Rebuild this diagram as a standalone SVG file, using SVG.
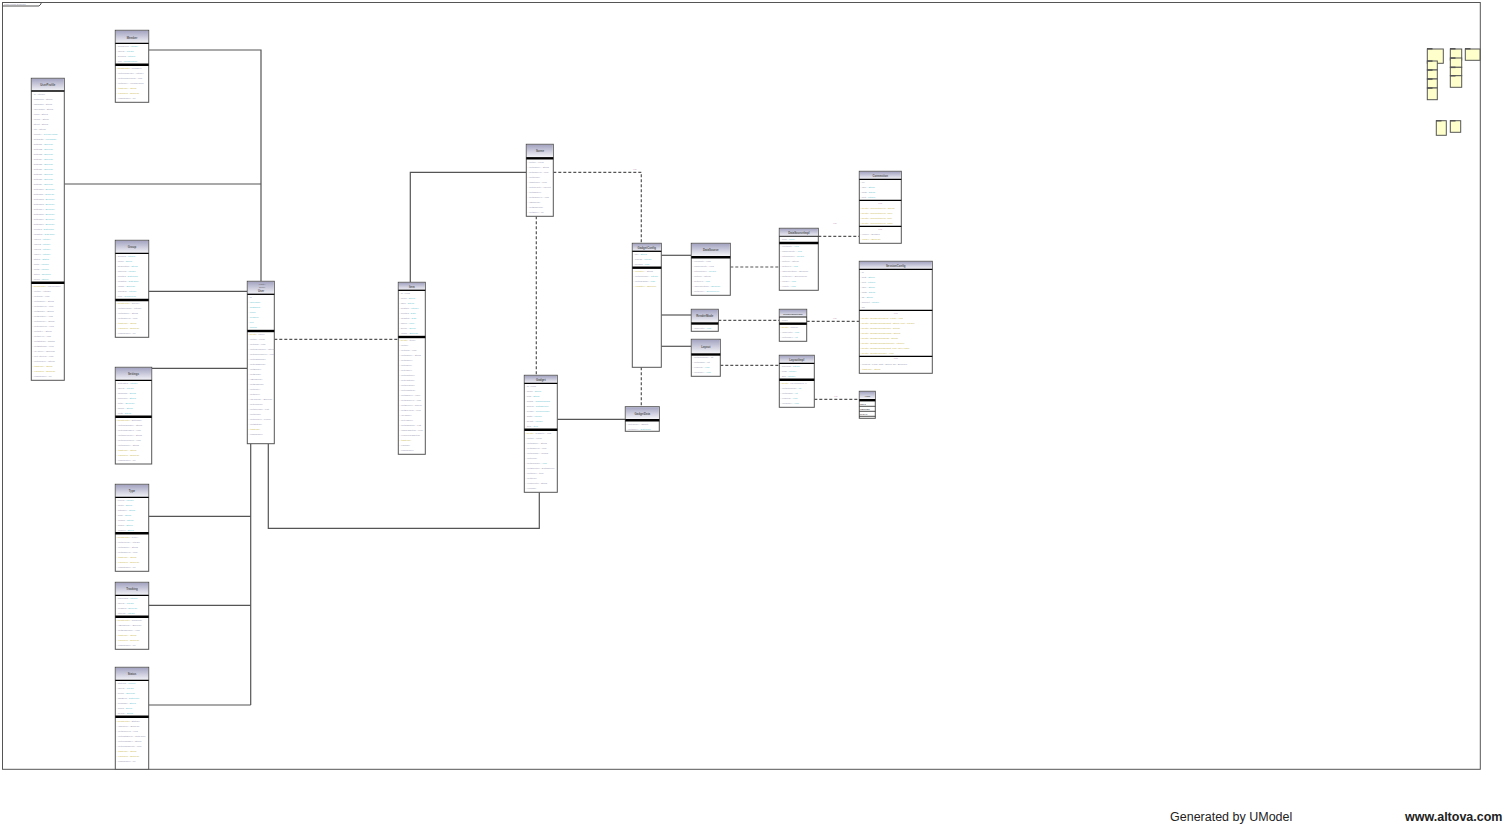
<svg xmlns="http://www.w3.org/2000/svg" width="1511" height="824" viewBox="0 0 1511 824">
<defs>
<linearGradient id="hg" x1="0" y1="0" x2="0" y2="1">
<stop offset="0" stop-color="#a4a4c2"/>
<stop offset="1" stop-color="#f4f4f8"/>
</linearGradient>
</defs>
<style>
.box{fill:#fff;stroke:#555;stroke-width:1}
.hd{fill:url(#hg)}
.sep{stroke:#000;stroke-width:1.3}
.thk{stroke:#000;stroke-width:2.4}
.thn{stroke:#000;stroke-width:0.9}
.cn{fill:none;stroke:#555;stroke-width:1.2}
.dash{stroke-dasharray:3 2}
.nm{font-family:"Liberation Sans",Arial,sans-serif;font-size:2.8px;font-weight:bold;fill:#555;text-anchor:middle}
.r{font-family:"Liberation Sans",Arial,sans-serif;font-size:2.4px;fill:#9a9ab4}
.t{fill:#6cc6d2}
.o{fill:#cdb950}
.s{font-family:"Liberation Sans",Arial,sans-serif;font-size:2.4px;fill:#c8a0bc;text-anchor:middle}
.note{fill:#ffffcc;stroke:#555;stroke-width:1}
.tab{fill:#555}
.ft{font-family:"Liberation Sans",Arial,sans-serif;font-size:12.5px;fill:#222}
</style>
<rect width="1511" height="824" fill="#fff"/>

<g id="frame">
<rect x="2.5" y="2.5" width="1477.8" height="766.8" fill="none" stroke="#555" stroke-width="1"/>
<path d="M2.5,6 H39 L41,4 V2.5" fill="none" stroke="#555" stroke-width="1"/>
<text x="4" y="5" class="r" style="font-size:2.4px">class Class Diagram</text>
</g>

<g id="connectors">
<path class="cn" d="M148.7,50 H261 V281.3"/>
<path class="cn" d="M64.3,184 H261"/>
<path class="cn" d="M148.7,291.3 H247.3"/>
<path class="cn" d="M151.7,368.3 H247.3"/>
<path class="cn" d="M250.7,443.7 V705"/>
<path class="cn" d="M148.7,516.3 H250.7"/>
<path class="cn" d="M148.7,605.3 H250.7"/>
<path class="cn" d="M148.7,705 H250.7"/>
<path class="cn" d="M268.3,443.7 V528.3 H539.3 V492.3"/>
<path class="cn dash" d="M274.3,339.3 H398.3"/>
<path class="cn" d="M410.3,282.3 V172.3 H526.3"/>
<path class="cn dash" d="M553.3,172.3 H641.3 V243.3"/>
<path class="cn dash" d="M536.3,216.3 V375.3"/>
<path class="cn" d="M557.3,419.3 H625.3"/>
<path class="cn dash" d="M641.3,367.3 V406.7"/>
<path class="cn" d="M661.3,255.3 H691.3"/>
<path class="cn" d="M661.3,315 H691.3"/>
<path class="cn" d="M661.3,346.3 H691.3"/>
<path class="cn dash" d="M730.3,267 H779.3"/>
<path class="cn dash" d="M818.3,236.3 H859.3"/>
<path class="cn dash" d="M718.3,320.3 H779.3"/>
<path class="cn dash" d="M806.7,321.3 H859.3"/>
<path class="cn dash" d="M720.3,365.3 H779.3"/>
<path class="cn dash" d="M814.3,399.3 H859.3"/>
<text class="s" x="635" y="169.5">use</text>
<text class="s" x="835" y="223.5">use</text>
<text class="s" x="835" y="319">use</text>
<text class="s" x="836" y="397">use</text>
</g>

<!-- Box A -->
<g id="member">
<rect class="box" x="115.3" y="30.3" width="33.4" height="72"/>
<rect class="hd" x="115.8" y="30.8" width="32.4" height="12.5"/>
<line class="sep" x1="115.3" y1="43.3" x2="148.7" y2="43.3"/>
<line class="thk" x1="115.3" y1="64.7" x2="148.7" y2="64.7"/>
<text class="nm" x="132" y="38.5">Member</text>
<text class="r" x="116.3" y="47.3">- memberId<tspan class="t"> : Integer</tspan><tspan x="116.3" dy="5">- userId</tspan><tspan class="t"> : Integer</tspan><tspan x="116.3" dy="5">- groupId</tspan><tspan class="t"> : Integer</tspan><tspan x="116.3" dy="5">- role</tspan><tspan class="t"> : MemberRole</tspan></text>
<text class="r" x="116.3" y="69"><tspan class="o">«constructor»</tspan> Member()<tspan x="116.3" dy="5">+ getMemberId() : Integer</tspan><tspan x="116.3" dy="5">+ setMemberId(id) : void</tspan><tspan x="116.3" dy="5">+ getRole() : MemberRole</tspan><tspan x="116.3" dy="5" class="o">+ toString() : String</tspan><tspan x="116.3" dy="5" class="o">+ equals(o) : Boolean</tspan><tspan x="116.3" dy="5">+ hashCode() : int</tspan></text>
</g>

<!-- Box B -->
<g id="userprofile">
<rect class="box" x="31.3" y="78.3" width="33" height="302"/>
<rect class="hd" x="31.8" y="78.8" width="32" height="12.2"/>
<line class="sep" x1="31.3" y1="91" x2="64.3" y2="91"/>
<line class="thk" x1="31.3" y1="282.7" x2="64.3" y2="282.7"/>
<text class="nm" x="47.8" y="86.3">UserProfile</text>
<text class="r" x="32.3" y="95">- id : Integer<tspan x="32.3" dy="5">- firstName : String</tspan><tspan x="32.3" dy="5">- lastName : String</tspan><tspan x="32.3" dy="5">- userName : String</tspan><tspan x="32.3" dy="5">- email : String</tspan><tspan x="32.3" dy="5">- phone : String</tspan><tspan x="32.3" dy="5">- street : String</tspan><tspan x="32.3" dy="5">- city : String</tspan><tspan x="32.3" dy="5">- country<tspan class="t"> : CountryCode</tspan></tspan><tspan x="32.3" dy="5">- birthDate<tspan class="t"> : LocalDate</tspan></tspan><tspan x="32.3" dy="5">- setting1<tspan class="t"> : Boolean</tspan></tspan><tspan x="32.3" dy="5">- setting2<tspan class="t"> : Boolean</tspan></tspan><tspan x="32.3" dy="5">- setting3<tspan class="t"> : Boolean</tspan></tspan><tspan x="32.3" dy="5">- setting4<tspan class="t"> : Boolean</tspan></tspan><tspan x="32.3" dy="5">- setting5<tspan class="t"> : Boolean</tspan></tspan><tspan x="32.3" dy="5">- setting6<tspan class="t"> : Boolean</tspan></tspan><tspan x="32.3" dy="5">- setting7<tspan class="t"> : Boolean</tspan></tspan><tspan x="32.3" dy="5">- setting8<tspan class="t"> : Boolean</tspan></tspan><tspan x="32.3" dy="5">- setting9<tspan class="t"> : Boolean</tspan></tspan><tspan x="32.3" dy="5">- setting10<tspan class="t"> : Boolean</tspan></tspan><tspan x="32.3" dy="5">- setting11<tspan class="t"> : Boolean</tspan></tspan><tspan x="32.3" dy="5">- setting12<tspan class="t"> : Boolean</tspan></tspan><tspan x="32.3" dy="5">- setting13<tspan class="t"> : Boolean</tspan></tspan><tspan x="32.3" dy="5">- setting14<tspan class="t"> : Boolean</tspan></tspan><tspan x="32.3" dy="5">- setting15<tspan class="t"> : Boolean</tspan></tspan><tspan x="32.3" dy="5">- setting16<tspan class="t"> : Boolean</tspan></tspan><tspan x="32.3" dy="5">- setting17<tspan class="t"> : Boolean</tspan></tspan><tspan x="32.3" dy="5">- created<tspan class="t"> : DateTime</tspan></tspan><tspan x="32.3" dy="5">- updated<tspan class="t"> : DateTime</tspan></tspan><tspan x="32.3" dy="5">- value1<tspan class="t"> : Integer</tspan></tspan><tspan x="32.3" dy="5">- value2<tspan class="t"> : Integer</tspan></tspan><tspan x="32.3" dy="5">- value3<tspan class="t"> : Integer</tspan></tspan><tspan x="32.3" dy="5">- value4<tspan class="t"> : Integer</tspan></tspan><tspan x="32.3" dy="5">- status<tspan class="t"> : Status</tspan></tspan><tspan x="32.3" dy="5">- limit1<tspan class="t"> : Integer</tspan></tspan><tspan x="32.3" dy="5">- limit2<tspan class="t"> : Integer</tspan></tspan><tspan x="32.3" dy="5">- active<tspan class="t"> : Boolean</tspan></tspan><tspan x="32.3" dy="5">- locale<tspan class="t"> : String</tspan></tspan></text>
<text class="r" x="32.3" y="287"><tspan class="o">«constructor»</tspan> UserProfile()<tspan x="32.3" dy="5">+ getId() : Integer</tspan><tspan x="32.3" dy="5">+ setId(id) : void</tspan><tspan x="32.3" dy="5">+ getName() : String</tspan><tspan x="32.3" dy="5">+ setName(n) : void</tspan><tspan x="32.3" dy="5">+ getEmail() : String</tspan><tspan x="32.3" dy="5">+ setEmail(e) : void</tspan><tspan x="32.3" dy="5">+ getPhone() : String</tspan><tspan x="32.3" dy="5">+ setPhone(p) : void</tspan><tspan x="32.3" dy="5">+ getCity() : String</tspan><tspan x="32.3" dy="5">+ setCity(c) : void</tspan><tspan x="32.3" dy="5">+ getStatus() : Status</tspan><tspan x="32.3" dy="5">+ setStatus(s) : void</tspan><tspan x="32.3" dy="5">+ isActive() : Boolean</tspan><tspan x="32.3" dy="5">+ setActive(a) : void</tspan><tspan x="32.3" dy="5">+ getLocale() : String</tspan><tspan x="32.3" dy="5" class="o">+ toString() : String</tspan><tspan x="32.3" dy="5" class="o">+ equals(o) : Boolean</tspan><tspan x="32.3" dy="5">+ hashCode() : int</tspan></text>
</g>

<!-- Box C -->
<g id="group">
<rect class="box" x="115.3" y="240.3" width="33.4" height="97"/>
<rect class="hd" x="115.8" y="240.8" width="32.4" height="12.5"/>
<line class="sep" x1="115.3" y1="253.3" x2="148.7" y2="253.3"/>
<line class="thk" x1="115.3" y1="300" x2="148.7" y2="300"/>
<text class="nm" x="132" y="248.3">Group</text>
<text class="r" x="116.3" y="257">- groupId<tspan class="t"> : Integer</tspan><tspan x="116.3" dy="5">- name</tspan><tspan class="t"> : String</tspan><tspan x="116.3" dy="5">- description</tspan><tspan class="t"> : String</tspan><tspan x="116.3" dy="5">- ownerId</tspan><tspan class="t"> : Integer</tspan><tspan x="116.3" dy="5">- created</tspan><tspan class="t"> : DateTime</tspan><tspan x="116.3" dy="5">- updated</tspan><tspan class="t"> : DateTime</tspan><tspan x="116.3" dy="5">- visible</tspan><tspan class="t"> : Boolean</tspan><tspan x="116.3" dy="5">- maxSize</tspan><tspan class="t"> : Integer</tspan><tspan x="116.3" dy="5">- type</tspan><tspan class="t"> : GroupType</tspan></text>
<text class="r" x="116.3" y="303.7"><tspan class="o">«constructor»</tspan> Group()<tspan x="116.3" dy="5">+ getGroupId() : Integer</tspan><tspan x="116.3" dy="5">+ getName() : String</tspan><tspan x="116.3" dy="5">+ setName(n) : void</tspan><tspan x="116.3" dy="5" class="o">+ toString() : String</tspan><tspan x="116.3" dy="5" class="o">+ equals(o) : Boolean</tspan><tspan x="116.3" dy="5">+ hashCode() : int</tspan></text>
</g>

<!-- Box D -->
<g id="settings">
<rect class="box" x="115.3" y="367.3" width="36.4" height="96.7"/>
<rect class="hd" x="115.8" y="367.8" width="35.4" height="12.5"/>
<line class="sep" x1="115.3" y1="380.3" x2="151.7" y2="380.3"/>
<line class="thk" x1="115.3" y1="416.7" x2="151.7" y2="416.7"/>
<text class="nm" x="133.5" y="375.3">Settings</text>
<text class="r" x="116.3" y="384.3">- settingsId<tspan class="t"> : Integer</tspan><tspan x="116.3" dy="5">- userId</tspan><tspan class="t"> : Integer</tspan><tspan x="116.3" dy="5">- language</tspan><tspan class="t"> : String</tspan><tspan x="116.3" dy="5">- timezone</tspan><tspan class="t"> : String</tspan><tspan x="116.3" dy="5">- notify</tspan><tspan class="t"> : Boolean</tspan><tspan x="116.3" dy="5">- theme</tspan><tspan class="t"> : String</tspan><tspan x="116.3" dy="5">- units</tspan><tspan class="t"> : String</tspan></text>
<text class="r" x="116.3" y="420.7"><tspan class="o">«constructor»</tspan> Settings()<tspan x="116.3" dy="5">+ getLanguage() : String</tspan><tspan x="116.3" dy="5">+ setLanguage(l) : void</tspan><tspan x="116.3" dy="5">+ getTimezone() : String</tspan><tspan x="116.3" dy="5">+ setTimezone(t) : void</tspan><tspan x="116.3" dy="5">+ getTheme() : String</tspan><tspan x="116.3" dy="5" class="o">+ toString() : String</tspan><tspan x="116.3" dy="5" class="o">+ equals(o) : Boolean</tspan><tspan x="116.3" dy="5">+ hashCode() : int</tspan></text>
</g>

<!-- Box F -->
<g id="type">
<rect class="box" x="115.3" y="484.3" width="33.4" height="87"/>
<rect class="hd" x="115.8" y="484.8" width="32.4" height="12.5"/>
<line class="sep" x1="115.3" y1="497.3" x2="148.7" y2="497.3"/>
<line class="thk" x1="115.3" y1="533.3" x2="148.7" y2="533.3"/>
<text class="nm" x="132" y="492.3">Type</text>
<text class="r" x="116.3" y="500.7">- typeId<tspan class="t"> : Integer</tspan><tspan x="116.3" dy="5">- name</tspan><tspan class="t"> : String</tspan><tspan x="116.3" dy="5">- category</tspan><tspan class="t"> : String</tspan><tspan x="116.3" dy="5">- code</tspan><tspan class="t"> : String</tspan><tspan x="116.3" dy="5">- vendor</tspan><tspan class="t"> : String</tspan><tspan x="116.3" dy="5">- model</tspan><tspan class="t"> : String</tspan><tspan x="116.3" dy="5">- version</tspan><tspan class="t"> : String</tspan></text>
<text class="r" x="116.3" y="538.3"><tspan class="o">«constructor»</tspan> Type()<tspan x="116.3" dy="5">+ getTypeId() : Integer</tspan><tspan x="116.3" dy="5">+ getName() : String</tspan><tspan x="116.3" dy="5">+ setName(n) : void</tspan><tspan x="116.3" dy="5" class="o">+ toString() : String</tspan><tspan x="116.3" dy="5" class="o">+ equals(o) : Boolean</tspan><tspan x="116.3" dy="5">+ hashCode() : int</tspan></text>
</g>

<!-- Box G -->
<g id="tracking">
<rect class="box" x="115.3" y="582.3" width="33.4" height="67"/>
<rect class="hd" x="115.8" y="582.8" width="32.4" height="12.5"/>
<line class="sep" x1="115.3" y1="595.3" x2="148.7" y2="595.3"/>
<line class="thk" x1="115.3" y1="616.7" x2="148.7" y2="616.7"/>
<text class="nm" x="132" y="590.3">Tracking</text>
<text class="r" x="116.3" y="598.7">- trackingId<tspan class="t"> : Integer</tspan><tspan x="116.3" dy="5">- userId</tspan><tspan class="t"> : Integer</tspan><tspan x="116.3" dy="5">- enabled</tspan><tspan class="t"> : Boolean</tspan><tspan x="116.3" dy="5">- interval</tspan><tspan class="t"> : Integer</tspan></text>
<text class="r" x="116.3" y="621.3"><tspan class="o">«constructor»</tspan> Tracking()<tspan x="116.3" dy="5">+ isEnabled() : Boolean</tspan><tspan x="116.3" dy="5">+ setEnabled(e) : void</tspan><tspan x="116.3" dy="5" class="o">+ toString() : String</tspan><tspan x="116.3" dy="5" class="o">+ equals(o) : Boolean</tspan><tspan x="116.3" dy="5">+ hashCode() : int</tspan></text>
</g>

<!-- Box H -->
<g id="status">
<rect class="box" x="115.3" y="667.3" width="33.4" height="102"/>
<rect class="hd" x="115.8" y="667.8" width="32.4" height="12.5"/>
<line class="sep" x1="115.3" y1="680.3" x2="148.7" y2="680.3"/>
<line class="thk" x1="115.3" y1="716.7" x2="148.7" y2="716.7"/>
<text class="nm" x="132" y="675.3">Status</text>
<text class="r" x="116.3" y="684">- statusId<tspan class="t"> : Integer</tspan><tspan x="116.3" dy="5">- userId</tspan><tspan class="t"> : Integer</tspan><tspan x="116.3" dy="5">- online</tspan><tspan class="t"> : Boolean</tspan><tspan x="116.3" dy="5">- lastSeen</tspan><tspan class="t"> : DateTime</tspan><tspan x="116.3" dy="5">- message</tspan><tspan class="t"> : String</tspan><tspan x="116.3" dy="5">- mood</tspan><tspan class="t"> : String</tspan><tspan x="116.3" dy="5">- device</tspan><tspan class="t"> : String</tspan></text>
<text class="r" x="116.3" y="721.7"><tspan class="o">«constructor»</tspan> Status()<tspan x="116.3" dy="5">+ isOnline() : Boolean</tspan><tspan x="116.3" dy="5">+ setOnline(o) : void</tspan><tspan x="116.3" dy="5">+ getLastSeen() : DateTime</tspan><tspan x="116.3" dy="5">+ getMessage() : String</tspan><tspan x="116.3" dy="5">+ setMessage(m) : void</tspan><tspan x="116.3" dy="5" class="o">+ toString() : String</tspan><tspan x="116.3" dy="5" class="o">+ equals(o) : Boolean</tspan><tspan x="116.3" dy="5">+ hashCode() : int</tspan></text>
</g>

<!-- Person -->
<g id="user">
<rect class="box" x="247.3" y="281.3" width="27" height="162.4"/>
<rect class="hd" x="247.8" y="281.8" width="26" height="12.5"/>
<line class="sep" x1="247.3" y1="294.3" x2="274.3" y2="294.3"/>
<line class="thk" x1="247.3" y1="331" x2="274.3" y2="331"/>
<text class="nm" x="262" y="285.2" style="font-weight:normal;font-size:2.2px">«entity»</text>
<text class="nm" x="262" y="288.3" style="font-weight:normal;font-size:2.2px">model</text>
<text class="nm" x="261" y="292">User</text>
<text class="r" x="248.3" y="298">- id<tspan x="248.3" dy="5" class="t">- username</tspan><tspan x="248.3" dy="5" class="t">- password</tspan><tspan x="248.3" dy="5" class="t">- email</tspan><tspan x="248.3" dy="5" class="t">- enabled</tspan><tspan x="248.3" dy="5" class="t">- role</tspan><tspan x="248.3" dy="5" class="t">- locked</tspan></text>
<text class="r" x="248.3" y="335.3"><tspan class="o">«create»</tspan> User()<tspan x="248.3" dy="5">+ getId() : Long</tspan><tspan x="248.3" dy="5">+ setId(id) : void</tspan><tspan x="248.3" dy="5">+ getUsername() : String</tspan><tspan x="248.3" dy="5">+ setUsername(u) : void</tspan><tspan x="248.3" dy="5">+ getPassword()</tspan><tspan x="248.3" dy="5">+ setPassword()</tspan><tspan x="248.3" dy="5">+ getEmail()</tspan><tspan x="248.3" dy="5">+ setEmail()</tspan><tspan x="248.3" dy="5">+ isEnabled()</tspan><tspan x="248.3" dy="5">+ setEnabled()</tspan><tspan x="248.3" dy="5">+ getRole()</tspan><tspan x="248.3" dy="5">+ setRole()</tspan><tspan x="248.3" dy="5">+ isLocked() : Boolean</tspan><tspan x="248.3" dy="5">+ setLocked()</tspan><tspan x="248.3" dy="5">+ getGroups() : List</tspan><tspan x="248.3" dy="5">+ getItems()</tspan><tspan x="248.3" dy="5">+ getProfile() : Profile</tspan><tspan x="248.3" dy="5">+ getStatus()</tspan><tspan x="248.3" dy="5" class="o">+ toString()</tspan><tspan x="248.3" dy="5">+ hashCode()</tspan></text>
</g>

<!-- Item -->
<g id="item">
<rect class="box" x="398.3" y="282.3" width="27" height="172"/>
<rect class="hd" x="398.8" y="282.8" width="26" height="7.5"/>
<line class="sep" x1="398.3" y1="290.3" x2="425.3" y2="290.3"/>
<line class="thk" x1="398.3" y1="337" x2="425.3" y2="337"/>
<text class="nm" x="411.8" y="288">Item</text>
<text class="r" x="399.3" y="294">- id : Long<tspan x="399.3" dy="5">- name<tspan class="t"> : String</tspan></tspan><tspan x="399.3" dy="5">- label<tspan class="t"> : String</tspan></tspan><tspan x="399.3" dy="5">- position<tspan class="t"> : Integer</tspan></tspan><tspan x="399.3" dy="5">- created<tspan class="t"> : Date</tspan></tspan><tspan x="399.3" dy="5">- updated<tspan class="t"> : Date</tspan></tspan><tspan x="399.3" dy="5">- owner<tspan class="t"> : User</tspan></tspan><tspan x="399.3" dy="5">- scene<tspan class="t"> : Scene</tspan></tspan><tspan x="399.3" dy="5">- visible<tspan class="t"> : Boolean</tspan></tspan></text>
<text class="r" x="399.3" y="341.3"><tspan class="o">«create»</tspan> Item()<tspan x="399.3" dy="5">+ getId()</tspan><tspan x="399.3" dy="5">+ setId(id) : void</tspan><tspan x="399.3" dy="5">+ getName() : String</tspan><tspan x="399.3" dy="5">+ setName()</tspan><tspan x="399.3" dy="5">+ getLabel()</tspan><tspan x="399.3" dy="5">+ setLabel()</tspan><tspan x="399.3" dy="5">+ getPosition()</tspan><tspan x="399.3" dy="5">+ setPosition()</tspan><tspan x="399.3" dy="5">+ getCreated()</tspan><tspan x="399.3" dy="5">+ getUpdated()</tspan><tspan x="399.3" dy="5">+ getOwner() : User</tspan><tspan x="399.3" dy="5">+ setOwner(u) : void</tspan><tspan x="399.3" dy="5">+ getScene() : Scene</tspan><tspan x="399.3" dy="5">+ setScene(s) : void</tspan><tspan x="399.3" dy="5">+ isVisible()</tspan><tspan x="399.3" dy="5">+ setVisible()</tspan><tspan x="399.3" dy="5">+ getGadgets() : List</tspan><tspan x="399.3" dy="5">+ addGadget(g) : void</tspan><tspan x="399.3" dy="5">+ removeGadget(g)</tspan><tspan x="399.3" dy="5" class="o">+ toString()</tspan><tspan x="399.3" dy="5">+ equals()</tspan><tspan x="399.3" dy="5">+ hashCode()</tspan></text>
</g>

<!-- Scene -->
<g id="scene">
<rect class="box" x="526.3" y="144.3" width="27" height="72"/>
<rect class="hd" x="526.8" y="144.8" width="26" height="12.5"/>
<line class="thk" x1="526.3" y1="158.3" x2="553.3" y2="158.3"/>
<text class="nm" x="540" y="152.3">Scene</text>
<text class="r" x="527.3" y="163.3">+ getId() : Long<tspan x="527.3" dy="5">+ getName() : String</tspan><tspan x="527.3" dy="5">+ setName(n) : void</tspan><tspan x="527.3" dy="5">+ getItems()</tspan><tspan x="527.3" dy="5">+ addItem(i) : void</tspan><tspan x="527.3" dy="5">+ getLayout() : Layout</tspan><tspan x="527.3" dy="5">+ getOwner()</tspan><tspan x="527.3" dy="5">+ setOwner(u) : void</tspan><tspan x="527.3" dy="5">+ isShared()</tspan><tspan x="527.3" dy="5">+ setShared(s)</tspan><tspan x="527.3" dy="5">+ getSize() : int</tspan></text>
</g>

<!-- Gadget -->
<g id="gadget">
<rect class="box" x="524.3" y="375.3" width="33" height="117"/>
<rect class="hd" x="524.8" y="375.8" width="32" height="7.5"/>
<line class="sep" x1="524.3" y1="383.3" x2="557.3" y2="383.3"/>
<line class="thk" x1="524.3" y1="429.7" x2="557.3" y2="429.7"/>
<text class="nm" x="540.8" y="380.8">Gadget</text>
<text class="r" x="525.3" y="387.3">- id : Long<tspan x="525.3" dy="5">- name<tspan class="t"> : String</tspan></tspan><tspan x="525.3" dy="5">- kind<tspan class="t"> : String</tspan></tspan><tspan x="525.3" dy="5">- config<tspan class="t"> : GadgetConfig</tspan></tspan><tspan x="525.3" dy="5">- source<tspan class="t"> : DataSource</tspan></tspan><tspan x="525.3" dy="5">- render<tspan class="t"> : RenderMode</tspan></tspan><tspan x="525.3" dy="5">- width<tspan class="t"> : Integer</tspan></tspan><tspan x="525.3" dy="5">- height<tspan class="t"> : Integer</tspan></tspan><tspan x="525.3" dy="5">- item<tspan class="t"> : Item</tspan></tspan></text>
<text class="r" x="525.3" y="434.3"><tspan class="o">«create»</tspan> Gadget() : void<tspan x="525.3" dy="5">+ getId() : Long</tspan><tspan x="525.3" dy="5">+ getName() : String</tspan><tspan x="525.3" dy="5">+ setName(n) : void</tspan><tspan x="525.3" dy="5">+ getConfig() : Config</tspan><tspan x="525.3" dy="5">+ getKind()</tspan><tspan x="525.3" dy="5">+ setConfig(c)<tspan class="t"> : void</tspan></tspan><tspan x="525.3" dy="5">+ getSource() : DataSource</tspan><tspan x="525.3" dy="5">+ getItem() : Item</tspan><tspan x="525.3" dy="5">+ setItem()</tspan><tspan x="525.3" dy="5">+ render(ctx) : String</tspan><tspan x="525.3" dy="5">+ refresh()</tspan></text>
</g>

<!-- Q -->
<g id="gadgetconfig">
<rect class="box" x="632.3" y="243.3" width="29" height="124"/>
<rect class="hd" x="632.8" y="243.8" width="28" height="7.5"/>
<line class="sep" x1="632.3" y1="251.3" x2="661.3" y2="251.3"/>
<line class="thk" x1="632.3" y1="267.7" x2="661.3" y2="267.7"/>
<text class="nm" x="646.8" y="248.8">GadgetConfig</text>
<text class="r" x="633.3" y="255.3">- title<tspan class="t"> : String</tspan><tspan x="633.3" dy="5">- refresh<tspan class="t"> : Integer</tspan></tspan><tspan x="633.3" dy="5">- params<tspan class="t"> : Map</tspan></tspan></text>
<text class="r" x="633.3" y="272"><tspan class="o">+ getTitle()</tspan> : String<tspan x="633.3" dy="5">+ getRefresh()<tspan class="t"> : Integer</tspan></tspan><tspan x="633.3" dy="5">+ getParams()<tspan class="t"> : Map</tspan></tspan><tspan x="633.3" dy="5" class="o">+ validate() : Boolean</tspan></text>
</g>

<!-- R -->
<g id="gadgetdata">
<rect class="box" x="625.3" y="406.7" width="34" height="24.6"/>
<rect class="hd" x="625.8" y="407.2" width="33" height="11.8"/>
<line class="thk" x1="625.3" y1="420.3" x2="659.3" y2="420.3"/>
<text class="nm" x="642.3" y="414.5">GadgetData</text>
<text class="r" x="626.3" y="425.3">+ getValue() : Object<tspan x="626.3" dy="5">+ getTime()<tspan class="t"> : DateTime</tspan></tspan></text>
</g>

<!-- S -->
<g id="source">
<rect class="box" x="691.3" y="243.3" width="39" height="52"/>
<rect class="hd" x="691.8" y="243.8" width="38" height="12.2"/>
<line class="thk" x1="691.3" y1="257.3" x2="730.3" y2="257.3"/>
<text class="nm" x="710.8" y="251.3">DataSource</text>
<text class="r" x="692.3" y="262.3">+ connect() : void<tspan x="692.3" dy="5">+ disconnect() : void</tspan><tspan x="692.3" dy="5">+ fetch(query)<tspan class="t"> : Result</tspan></tspan><tspan x="692.3" dy="5">+ getUrl() : String</tspan><tspan x="692.3" dy="5">+ setUrl(u)<tspan class="t"> : void</tspan></tspan><tspan x="692.3" dy="5">+ isConnected()<tspan class="t"> : Boolean</tspan></tspan><tspan x="692.3" dy="5">+ getType()<tspan class="t"> : SourceType</tspan></tspan></text>
</g>

<!-- T -->
<g id="render">
<rect class="box" x="691.3" y="309.3" width="27" height="22"/>
<rect class="hd" x="691.8" y="309.8" width="26" height="12.5"/>
<line class="thk" x1="691.3" y1="323.5" x2="718.3" y2="323.5"/>
<text class="nm" x="704.8" y="317.3">RenderMode</text>
<text class="r" x="692.3" y="329">+ apply(ctx)<tspan class="t"> : void</tspan></text>
</g>

<!-- U -->
<g id="layout">
<rect class="box" x="691.3" y="339.3" width="29" height="37"/>
<rect class="hd" x="691.8" y="339.8" width="28" height="13.5"/>
<line class="thk" x1="691.3" y1="354.5" x2="720.3" y2="354.5"/>
<text class="nm" x="705.8" y="347.8">Layout</text>
<text class="r" x="692.3" y="358.3">+ getColumns() : int<tspan x="692.3" dy="5">+ getRows() : int</tspan><tspan x="692.3" dy="5">+ place(g)<tspan class="t"> : void</tspan></tspan><tspan x="692.3" dy="5">+ arrange()<tspan class="t"> : void</tspan></tspan></text>
</g>

<!-- V -->
<g id="sourceimpl">
<rect class="box" x="779.3" y="228.3" width="39" height="62"/>
<rect class="hd" x="779.8" y="228.8" width="38" height="7.5"/>
<line class="thn" x1="779.3" y1="236.3" x2="818.3" y2="236.3"/>
<line class="thk" x1="779.3" y1="243" x2="818.3" y2="243"/>
<text class="nm" x="798.8" y="234">DataSourceImpl</text>
<text class="r" x="780.3" y="240.3">- conn<tspan class="t"> : Conn</tspan></text>
<text class="r" x="780.3" y="247.3">+ connect()<tspan class="t"> : void</tspan><tspan x="780.3" dy="5">+ disconnect()<tspan class="t"> : void</tspan></tspan><tspan x="780.3" dy="5">+ fetch(query)<tspan class="t"> : Result</tspan></tspan><tspan x="780.3" dy="5">+ getUrl() : String</tspan><tspan x="780.3" dy="5">+ setUrl(u)<tspan class="t"> : void</tspan></tspan><tspan x="780.3" dy="5">+ isConnected() : Boolean</tspan><tspan x="780.3" dy="5">+ getType() : SourceType</tspan><tspan x="780.3" dy="5">+ close()<tspan class="t"> : void</tspan></tspan><tspan x="780.3" dy="5">+ reset()<tspan class="t"> : void</tspan></tspan></text>
</g>

<!-- W -->
<g id="connection">
<rect class="box" x="859.3" y="171.3" width="42" height="72"/>
<rect class="hd" x="859.8" y="171.8" width="41" height="7.5"/>
<line class="sep" x1="859.3" y1="179.3" x2="901.3" y2="179.3"/>
<line class="sep" x1="859.3" y1="200.3" x2="901.3" y2="200.3"/>
<line class="sep" x1="859.3" y1="226.3" x2="901.3" y2="226.3"/>
<text class="nm" x="880.3" y="176.8">Connection</text>
<text class="r" x="860.3" y="183.3">- url<tspan x="860.3" dy="5">- user<tspan class="t"> : String</tspan></tspan><tspan x="860.3" dy="5">- pass<tspan class="t"> : String</tspan></tspan><tspan x="860.3" dy="5">- port<tspan class="t"> : Integer</tspan></tspan></text>
<text class="s" x="880.3" y="203.8">ops</text>
<text class="r" x="860.3" y="209.3"><tspan class="o">«create» Connection(url : String)</tspan><tspan x="860.3" dy="5" class="o">«create» Connection(url, user)</tspan><tspan x="860.3" dy="5" class="o">«create» Connection(url, port)</tspan><tspan x="860.3" dy="5" class="o">«create» Connection(url, pass)</tspan></text>
<text class="s" x="880.3" y="229.8">ops</text>
<text class="r" x="860.3" y="235.3">+ open() : Session<tspan x="860.3" dy="5" class="o">+ close() : Boolean</tspan></text>
</g>

<!-- Y -->
<g id="sessionconfig">
<rect class="box" x="859.3" y="261.3" width="73" height="112"/>
<rect class="hd" x="859.8" y="261.8" width="72" height="7.5"/>
<line class="sep" x1="859.3" y1="269.3" x2="932.3" y2="269.3"/>
<line class="sep" x1="859.3" y1="310.3" x2="932.3" y2="310.3"/>
<line class="sep" x1="859.3" y1="356.3" x2="932.3" y2="356.3"/>
<text class="nm" x="895.8" y="266.8">SessionConfig</text>
<text class="r" x="860.3" y="273.3">- id<tspan x="860.3" dy="5">- host<tspan class="t"> : String</tspan></tspan><tspan x="860.3" dy="5">- port<tspan class="t"> : Integer</tspan></tspan><tspan x="860.3" dy="5">- user<tspan class="t"> : String</tspan></tspan><tspan x="860.3" dy="5">- pass<tspan class="t"> : String</tspan></tspan><tspan x="860.3" dy="5">- db<tspan class="t"> : String</tspan></tspan><tspan x="860.3" dy="5">- timeout<tspan class="t"> : Integer</tspan></tspan><tspan x="860.3" dy="5">- ssl</tspan></text>
<text class="s" x="895.8" y="313.7">ops</text>
<text class="r" x="860.3" y="319.3"><tspan class="o">«create» SessionConfig(id : Long) : void</tspan><tspan x="860.3" dy="5" class="o">«create» SessionConfig(host : String, port : Integer)</tspan><tspan x="860.3" dy="5" class="o">«create» SessionConfig(user : String)</tspan><tspan x="860.3" dy="5" class="o">«create» SessionConfig(pass : String)</tspan><tspan x="860.3" dy="5" class="o">«create» SessionConfig(db : String)</tspan><tspan x="860.3" dy="5" class="o">«create» SessionConfig(timeout : Integer)</tspan><tspan x="860.3" dy="5" class="o">«create» SessionConfig(host, port, user, pass)</tspan><tspan x="860.3" dy="5" class="o">«create» SessionConfig() : void</tspan></text>
<text class="s" x="895.8" y="359.3">ops</text>
<text class="r" x="860.3" y="365.3">+ build(id : Long, host : String, ssl : Boolean)<tspan x="860.3" dy="5" class="o">+ toString() : String</tspan></text>
</g>

<!-- X -->
<g id="renderimpl">
<rect class="box" x="779.3" y="309.3" width="27.4" height="32"/>
<rect class="hd" x="779.8" y="309.8" width="26.4" height="7.2"/>
<line class="thn" x1="779.3" y1="317" x2="806.7" y2="317"/>
<line class="thk" x1="779.3" y1="323.7" x2="806.7" y2="323.7"/>
<text class="nm" x="793" y="315" style="font-size:2.4px">RenderModeImpl</text>
<text class="r" x="780.3" y="321.3">- mode</text>
<text class="r" x="780.3" y="328.3"><tspan class="o">«create»</tspan> Impl(m)<tspan x="780.3" dy="5">+ apply(ctx)<tspan class="t"> : void</tspan></tspan><tspan x="780.3" dy="5">+ getMode()<tspan class="t"> : int</tspan></tspan></text>
</g>

<!-- Z -->
<g id="layoutimpl">
<rect class="box" x="779.3" y="355.3" width="35" height="52"/>
<rect class="hd" x="779.8" y="355.8" width="34" height="7.5"/>
<line class="sep" x1="779.3" y1="363.3" x2="814.3" y2="363.3"/>
<line class="thk" x1="779.3" y1="379.7" x2="814.3" y2="379.7"/>
<text class="nm" x="796.8" y="360.8">LayoutImpl</text>
<text class="r" x="780.3" y="367.3">- columns<tspan class="t"> : Integer</tspan><tspan x="780.3" dy="5">- rows<tspan class="t"> : Integer</tspan></tspan><tspan x="780.3" dy="5">- gap<tspan class="t"> : Integer</tspan></tspan></text>
<text class="r" x="780.3" y="384.3"><tspan class="o">«create»</tspan> LayoutImpl(c, r)<tspan x="780.3" dy="5">+ getColumns()<tspan class="t"> : int</tspan></tspan><tspan x="780.3" dy="5">+ getRows()<tspan class="t"> : int</tspan></tspan><tspan x="780.3" dy="5">+ place(g)<tspan class="t"> : void</tspan></tspan><tspan x="780.3" dy="5">+ arrange()<tspan class="t"> : void</tspan></tspan></text>
</g>

<!-- AA -->
<g id="align">
<rect class="box" x="859.3" y="391.3" width="16" height="27"/>
<rect class="hd" x="859.8" y="391.8" width="15" height="7.2"/>
<line class="thk" x1="859.3" y1="400.2" x2="875.3" y2="400.2"/>
<text class="nm" x="867.3" y="397" style="font-size:2.3px">Align</text>
<text class="r" x="860" y="405" style="fill:#333">LEFT<tspan x="860" dy="5">CENTER</tspan><tspan x="860" dy="5">RIGHT</tspan></text>
<line stroke="#222" stroke-width="0.8" x1="859.3" y1="406.3" x2="875.3" y2="406.3"/>
<line stroke="#222" stroke-width="0.8" x1="859.3" y1="411.3" x2="875.3" y2="411.3"/>
<line stroke="#222" stroke-width="0.8" x1="859.3" y1="416.3" x2="875.3" y2="416.3"/>
</g>

<!-- Notes -->
<g id="notes">
<rect class="note" x="1427.3" y="49" width="16" height="14.3"/>
<rect class="tab" x="1427" y="48" width="5.5" height="1.5"/>
<rect class="note" x="1427.3" y="61" width="10" height="9"/>
<rect class="tab" x="1427" y="60.3" width="5.5" height="1.5"/>
<rect class="note" x="1427.3" y="70" width="10" height="9"/>
<rect class="tab" x="1427" y="69.3" width="5.5" height="1.5"/>
<rect class="note" x="1427.3" y="79" width="10" height="9"/>
<rect class="tab" x="1427" y="78.3" width="5.5" height="1.5"/>
<rect class="note" x="1427.3" y="88" width="10" height="11.7"/>
<rect class="tab" x="1427" y="87.3" width="5.5" height="1.5"/>
<rect class="note" x="1450.3" y="49" width="11.4" height="11"/>
<rect class="tab" x="1450" y="48" width="5.5" height="1.5"/>
<rect class="note" x="1450.3" y="58" width="11.4" height="9.3"/>
<rect class="tab" x="1450" y="57.3" width="5.5" height="1.5"/>
<rect class="note" x="1450.3" y="67.3" width="11.4" height="8.4"/>
<rect class="tab" x="1450" y="66.6" width="5.5" height="1.5"/>
<rect class="note" x="1450.3" y="75.7" width="11.4" height="11.6"/>
<rect class="tab" x="1450" y="75" width="5.5" height="1.5"/>
<rect class="note" x="1465.3" y="49" width="14.7" height="11.3"/>
<rect class="tab" x="1465" y="48" width="5.5" height="1.5"/>
<rect class="note" x="1436.3" y="120.7" width="10" height="14.6"/>
<rect class="tab" x="1436" y="120" width="5.5" height="1.5"/>
<rect class="note" x="1450.3" y="120.7" width="10.4" height="11.6"/>
<rect class="tab" x="1450" y="120" width="5.5" height="1.5"/>
</g>

<g id="footer">
<text class="ft" x="1170" y="821">Generated by UModel</text>
<text class="ft" x="1405" y="821" style="font-weight:bold">www.altova.com</text>
</g>
</svg>
